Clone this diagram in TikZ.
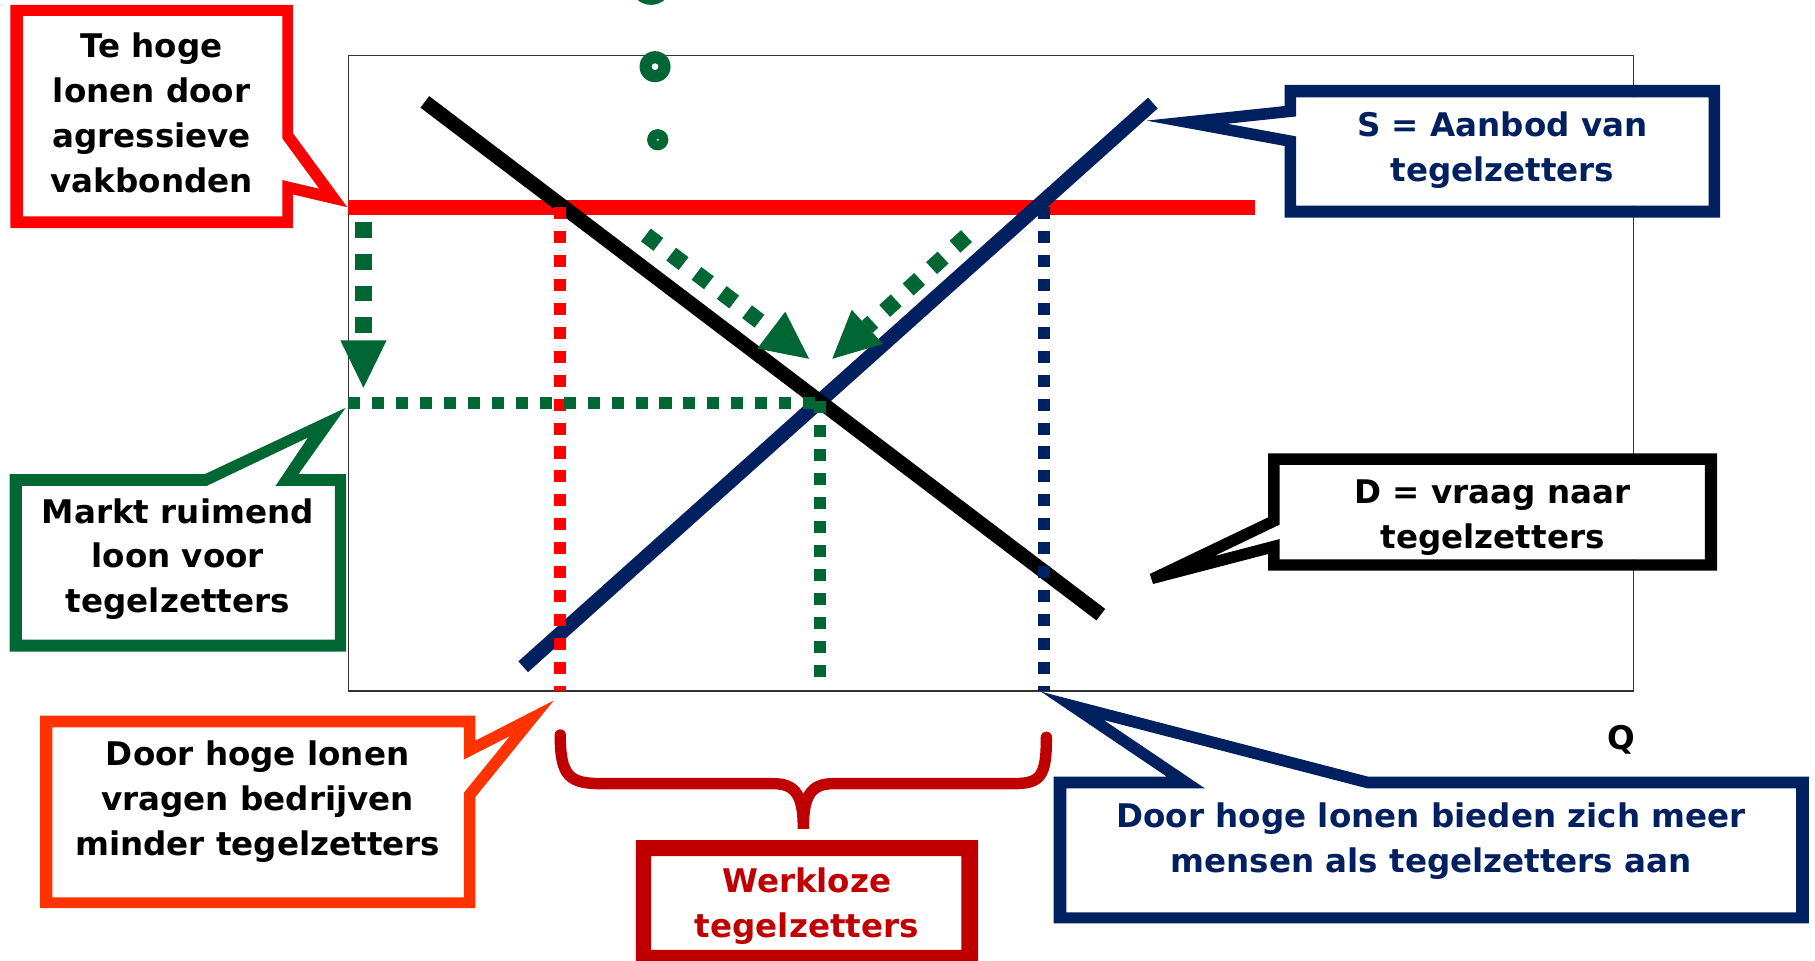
\documentclass[tikz,border=0pt]{standalone}
\usepackage{fontspec}
\setmainfont{DejaVu Sans}
\usetikzlibrary{calc}
\definecolor{cRed}{RGB}{255,0,0}
\definecolor{cGreen}{RGB}{0,102,51}
\definecolor{cNavy}{RGB}{0,32,96}
\definecolor{cOrange}{RGB}{255,51,0}
\definecolor{cDark}{RGB}{192,0,0}
\begin{document}
\begin{tikzpicture}[x=0.025cm,y=-0.025cm,line join=miter,
  lab/.style={font=\bfseries\fontsize{20}{27.5}\selectfont,align=center,inner sep=0pt},
  curveline/.style={line width=8.9pt,line cap=butt},
  guide/.style={line width=7.3pt,dash pattern=on 7.4pt off 7.3pt},
  move/.style={cGreen,line width=9.9pt,dash pattern=on 9.6pt off 9.9pt}]

\fill[white] (0,0) rectangle (1568,830);
\useasboundingbox (0,0) rectangle (1568,830);

% plot frame
\draw[black!80,line width=0.9pt] (301,48) rectangle (1411,597);

% green dots
\fill[cGreen,even odd rule] (562.4,-13.8) circle[radius=0.45cm] (562.4,-13.8) circle[radius=0.1cm];
\fill[cGreen,even odd rule] (565.9,57.6) circle[radius=0.335cm] (565.9,57.6) circle[radius=0.075cm];
\fill[cGreen,even odd rule] (568.2,120.7) circle[radius=0.23cm] (568.2,120.7) circle[radius=0.03cm];

% coordinates
\coordinate (Dtop) at (367,88);
\coordinate (Dbot) at (951,531);
\coordinate (Sbot) at (452,576);
\coordinate (Stop) at (996,89);
\coordinate (Eq) at (intersection of Dtop--Dbot and Sbot--Stop);
\coordinate (Wl) at (301,179);
\coordinate (Wr) at (1084,179);
\coordinate (Rt) at (484,179);
\coordinate (Rb) at (484,597);
\coordinate (Bt) at (902,179);
\coordinate (Bb) at (902,597);
\coordinate (Pw) at (301,348);
\coordinate (Qg) at (705,587);

% minimum wage line
\draw[cRed,line width=9.2pt] (Wl) -- (Wr);
% supply and demand
\draw[cNavy,curveline] (Sbot) -- (Stop);
\draw[black,curveline] (Dtop) -- (Dbot);

% guide lines
\draw[cRed,guide] (Rt) -- (Rb);
\draw[cNavy,guide] (Bt) -- (Bb);
\draw[cGreen,guide] (Pw) -- (Pw -| Eq);
\draw[cGreen,guide] (Eq) -- (Eq |- Qg);

% green movement arrows
\coordinate (a1s) at (314,192); \coordinate (a1e) at (314,335);
\coordinate (a2s) at (558,203); \coordinate (a2e) at (699,310);
\coordinate (a3s) at (835,204); \coordinate (a3e) at (719,310);
\foreach \s/\e in {a1s/a1e,a2s/a2e,a3s/a3e}{
  \coordinate (\s-b) at ($(\e)!1.025cm!(\s)$);
  \draw[move] (\s) -- (\s-b);
  \fill[cGreen] (\e) -- ($(\s-b)!0.5cm!90:(\e)$) -- ($(\s-b)!0.5cm!-90:(\e)$) -- cycle;
}

% brace
\draw[cDark,line width=7pt,line cap=round]
  (484,635) .. controls (484,671) and (492,677) .. (520,677) -- (668,677)
  .. controls (688,677) and (694,688) .. (694,716)
  .. controls (694,688) and (700,677) .. (720,677) -- (875,677)
  .. controls (899,677) and (904,671) .. (904,637);

% red callout
\fill[white] (19.8,13.8) -- (244,13.8) -- (244,119.7) -- (275.9,163.1) -- (244,155.6) -- (244,187) -- (19.8,187) -- cycle;
\fill[cRed,even odd rule]
  (9,4.3) -- (253,4.3) -- (253,115) -- (300,179) -- (253,168) -- (253,197) -- (9,197) -- cycle
  (19.8,13.8) -- (244,13.8) -- (244,119.7) -- (275.9,163.1) -- (244,155.6) -- (244,187) -- (19.8,187) -- cycle;
\node[lab] (tRed) at (131,97.5) {Te hoge\\lonen door\\agressieve\\vakbonden};

% green callout
\fill[white] (18.8,419.8) -- (178.5,419.8) -- (266.1,378) -- (238,419.8) -- (289.3,419.8) -- (289.3,552.6) -- (18.8,552.6) -- cycle;
\fill[cGreen,even odd rule]
  (8.3,409.6) -- (176.9,409.6) -- (298.5,352.4) -- (257.9,409.6) -- (299,409.6) -- (299,563) -- (8.3,563) -- cycle
  (18.8,419.8) -- (178.5,419.8) -- (266.1,378) -- (238,419.8) -- (289.3,419.8) -- (289.3,552.6) -- (18.8,552.6) -- cycle;
\node[lab] (tGreen) at (153.6,483) {Markt ruimend\\loon voor\\tegelzetters};

% orange callout
\fill[white] (45.3,628.4) -- (400.7,628.4) -- (400.7,656.2) -- (440.6,635.8) -- (400.7,684.9) -- (400.7,775.2) -- (45.3,775.2) -- cycle;
\fill[cOrange,even odd rule]
  (34.7,618.2) -- (410.6,618.2) -- (410.6,639.9) -- (478.4,605.2) -- (410.6,688.6) -- (410.6,784.6) -- (34.7,784.6) -- cycle
  (45.3,628.4) -- (400.7,628.4) -- (400.7,656.2) -- (440.6,635.8) -- (400.7,684.9) -- (400.7,775.2) -- (45.3,775.2) -- cycle;
\node[lab] (tOrange) at (222.6,692.5) {Door hoge lonen\\vragen bedrijven\\minder tegelzetters};

% unemployed box
\fill[white] (562.5,739.5) rectangle (830.6,820.7);
\fill[cDark,even odd rule] (549.4,725.7) rectangle (845,840) (562.5,739.5) rectangle (830.6,820.7);
\node[lab,text=cDark] (tDark) at (697,782.5) {Werkloze\\tegelzetters};

% navy bottom callout
\fill[white] (921.2,681) -- (1040.8,681) -- (953.4,622) -- (1180.8,681) -- (1551.7,681) -- (1551.7,788.2) -- (921.2,788.2) -- cycle;
\fill[cNavy,even odd rule]
  (910.3,671) -- (1008.1,671) -- (899.4,597.6) -- (1182.1,671) -- (1562.6,671) -- (1562.6,797.7) -- (910.3,797.7) -- cycle
  (921.2,681) -- (1040.8,681) -- (953.4,622) -- (1180.8,681) -- (1551.7,681) -- (1551.7,788.2) -- (921.2,788.2) -- cycle;
\node[lab,text=cNavy] (tNavy) at (1236.4,726.5) {Door hoge lonen bieden zich meer\\mensen als tegelzetters aan};

% S callout
\fill[white] (1119.7,84.1) -- (1476,84.1) -- (1476,177.7) -- (1119.7,177.7) -- (1119.7,117.8) -- (1060.2,106.9) -- (1119.7,100.6) -- cycle;
\fill[cNavy,even odd rule]
  (1109.7,73.4) -- (1486.1,73.4) -- (1486.1,188) -- (1109.7,188) -- (1109.7,126.1) -- (990.5,104.2) -- (1109.7,91.6) -- cycle
  (1119.7,84.1) -- (1476,84.1) -- (1476,177.7) -- (1119.7,177.7) -- (1119.7,117.8) -- (1060.2,106.9) -- (1119.7,100.6) -- cycle;
\node[lab,text=cNavy] (tS) at (1297.9,129.5) {S = Aanbod van\\tegelzetters};

% D callout
\fill[white] (1105.5,401.7) -- (1472.9,401.7) -- (1472.9,483.2) -- (1105.5,483.2) -- (1105.5,465.7) -- (1048.4,480.6) -- (1105.5,453.2) -- cycle;
\fill[black,even odd rule]
  (1095.6,391.6) -- (1483.5,391.6) -- (1483.5,493) -- (1095.6,493) -- (1095.6,478.6) -- (996.2,504.5) -- (993.3,495.9) -- (1095.6,446.9) -- cycle
  (1105.5,401.7) -- (1472.9,401.7) -- (1472.9,483.2) -- (1105.5,483.2) -- (1105.5,465.7) -- (1048.4,480.6) -- (1105.5,453.2) -- cycle;
\node[lab] (tD) at (1289.5,447.5) {D = vraag naar\\tegelzetters};

% axis label
\node[lab] (tQ) at (1401,639.5) {Q};
\end{tikzpicture}
\end{document}
